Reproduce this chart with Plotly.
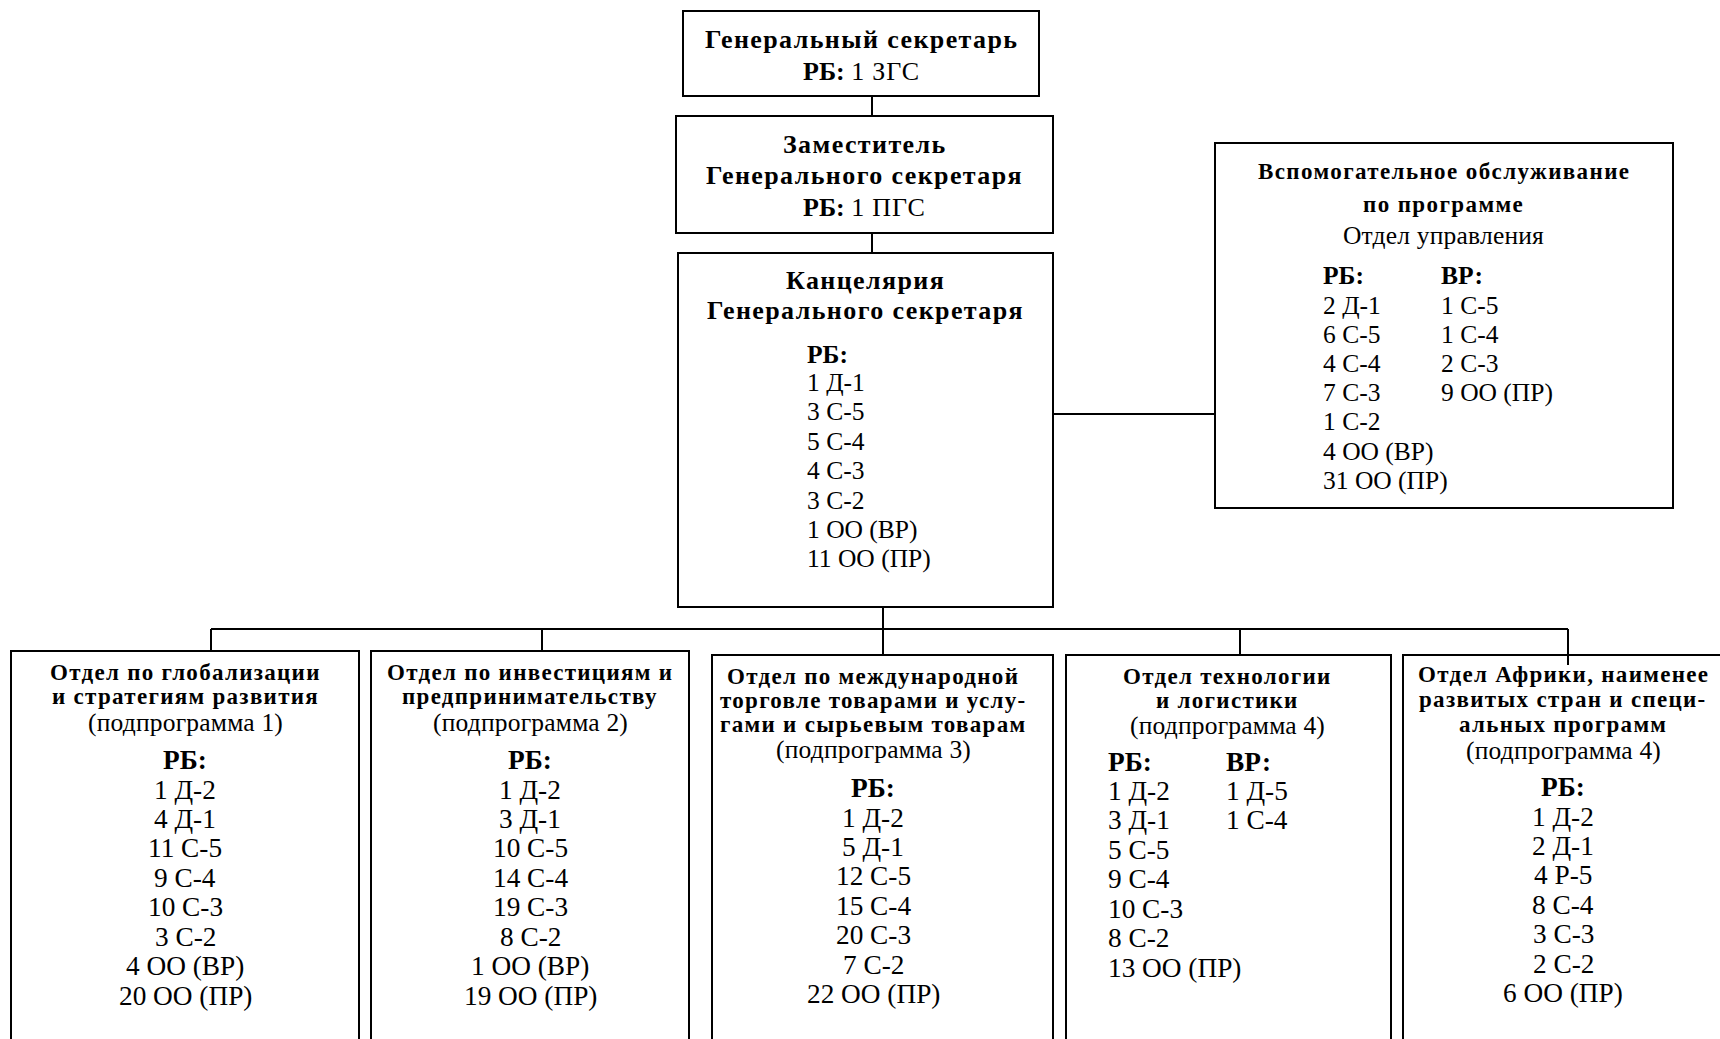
import plotly.graph_objects as go

# ---------------- data (texts) ----------------
sg_title = ["Генеральный секретарь"]
sg_rb = "1 ЗГС"

dsg_title = ["Заместитель", "Генерального секретаря"]
dsg_rb = "1 ПГС"

osg_title = ["Канцелярия", "Генерального секретаря"]
osg_rb = ["1 Д-1", "3 С-5", "5 С-4", "4 С-3", "3 С-2", "1 ОО (ВР)", "11 ОО (ПР)"]

ps_title = ["Вспомогательное обслуживание", "по программе"]
ps_sub = "Отдел управления"
ps_rb = ["2 Д-1", "6 С-5", "4 С-4", "7 С-3", "1 С-2", "4 ОО (ВР)", "31 ОО (ПР)"]
ps_xb = ["1 С-5", "1 С-4", "2 С-3", "9 ОО (ПР)"]

div_titles = [
    ["Отдел по глобализации", "и стратегиям развития"],
    ["Отдел по инвестициям и", "предпринимательству"],
    ["Отдел по международной", "торговле товарами и услу-", "гами и сырьевым товарам"],
    ["Отдел технологии", "и логистики"],
    ["Отдел Африки, наименее", "развитых стран и специ-", "альных программ"],
]
div_subs = ["(подпрограмма 1)", "(подпрограмма 2)", "(подпрограмма 3)",
            "(подпрограмма 4)", "(подпрограмма 4)"]
div_rb = [
    ["1 Д-2", "4 Д-1", "11 С-5", "9 С-4", "10 С-3", "3 С-2", "4 ОО (ВР)", "20 ОО (ПР)"],
    ["1 Д-2", "3 Д-1", "10 С-5", "14 С-4", "19 С-3", "8 С-2", "1 ОО (ВР)", "19 ОО (ПР)"],
    ["1 Д-2", "5 Д-1", "12 С-5", "15 С-4", "20 С-3", "7 С-2", "22 ОО (ПР)"],
    ["1 Д-2", "3 Д-1", "5 С-5", "9 С-4", "10 С-3", "8 С-2", "13 ОО (ПР)"],
    ["1 Д-2", "2 Д-1", "4 Р-5", "8 С-4", "3 С-3", "2 С-2", "6 ОО (ПР)"],
]
div_xb = [[], [], [], ["1 Д-5", "1 С-4"], []]

RB_LABEL = "РБ:"
XB_LABEL = "ВР:"

# ---------------- layout geometry ----------------
W, H = 1720, 1039
FONT = "Liberation Serif"
HEAD_SIZE = 26
HEAD_LS = 1.4
TOP_LIST_SIZE = 25.5
PS_HEAD_SIZE = 23
PS_HEAD_LS = 1.4
SUB_SIZE = 25.5
SUB_LS = 0.2
DIV_HEAD_SIZE = 23
DIV_HEAD_LS = 1.3
DIV_LIST_SIZE = 27.3
LW = 2

top_boxes = {
    "sg": (683, 11, 1039, 96),
    "dsg": (676, 116, 1053, 233),
    "osg": (678, 253, 1053, 607),
    "ps": (1215, 143, 1673, 508),
}
div_boxes_x0 = [11, 371, 712, 1066, 1403]
div_boxes_x1 = [359, 689, 1053, 1391, 1730]
div_boxes_y0 = [651, 651, 655, 655, 655]
div_cx = [185, 530, 873, 1227.5, 1563]
div_head_y0 = [672, 672, 676, 676, 674.5]
div_head_step = [24.6, 24.6, 24.3, 24.2, 25.1]
div_rb_y = [760, 760, 788, 762, 787]
div_list_step = 29.45
div4_cols = (1106, 1224)

bus_y = 629
bus_x = (211, 1568)
drop_x = [211, 542, 883, 1240, 1568]
drop_y1 = [651, 651, 655, 655, 665]

fig = go.Figure()
shapes = []
ann = []


def rect(b):
    shapes.append(dict(type="rect", xref="x", yref="y", x0=b[0], y0=b[1], x1=b[2], y1=b[3],
                       line=dict(color="black", width=LW), fillcolor="rgba(0,0,0,0)", layer="below"))


def line(x0, y0, x1, y1):
    shapes.append(dict(type="line", xref="x", yref="y", x0=x0, y0=y0, x1=x1, y1=y1,
                       line=dict(color="black", width=LW), layer="below"))


def bold(t, ls):
    return f'<b><span style="letter-spacing:{ls}px">{t}</span></b>'


def spaced(t, ls):
    return f'<span style="letter-spacing:{ls}px">{t}</span>'


def text(x, y, t, size, anchor="center"):
    ann.append(dict(x=x, y=y, xref="x", yref="y", text=t, showarrow=False,
                    xanchor=anchor, yanchor="middle",
                    font=dict(family=FONT, size=size, color="black")))


# boxes
for b in top_boxes.values():
    rect(b)
for i in range(5):
    rect((div_boxes_x0[i], div_boxes_y0[i], div_boxes_x1[i], H + 30))

# connectors
line(872, 96, 872, 116)
line(872, 233, 872, 253)
line(1053, 414, 1215, 414)
line(883, 607, 883, 655)
line(bus_x[0], bus_y, bus_x[1], bus_y)
for x, y1 in zip(drop_x, drop_y1):
    line(x, bus_y, x, y1)

# SG box
text(861, 39.5, bold(sg_title[0], HEAD_LS), HEAD_SIZE)
text(861, 71, "<b>" + RB_LABEL + "</b> " + spaced(sg_rb, 0.8), HEAD_SIZE)

# DSG box
for k, t in enumerate(dsg_title):
    text(864.5, 144 + 31 * k, bold(t, HEAD_LS), HEAD_SIZE)
text(864.5, 207, "<b>" + RB_LABEL + "</b> " + spaced(dsg_rb, 0.8), HEAD_SIZE)

# OSG box
for k, t in enumerate(osg_title):
    text(865.5, 280 + 30.5 * k, bold(t, HEAD_LS), HEAD_SIZE)
text(805, 354, "<b>" + RB_LABEL + "</b>", TOP_LIST_SIZE, "left")
for k, t in enumerate(osg_rb):
    text(805, 382.5 + 29.4 * k, t, TOP_LIST_SIZE, "left")

# Programme support box
text(1443.5, 171.7, bold(ps_title[0], PS_HEAD_LS), PS_HEAD_SIZE)
text(1443.5, 204, bold(ps_title[1], PS_HEAD_LS), PS_HEAD_SIZE)
text(1443.5, 235, spaced(ps_sub, SUB_LS), SUB_SIZE)
text(1321, 275.5, "<b>" + RB_LABEL + "</b>", TOP_LIST_SIZE, "left")
text(1439, 275.5, "<b>" + XB_LABEL + "</b>", TOP_LIST_SIZE, "left")
for k, t in enumerate(ps_rb):
    text(1321, 305 + 29.2 * k, t, TOP_LIST_SIZE, "left")
for k, t in enumerate(ps_xb):
    text(1439, 305 + 29.2 * k, t, TOP_LIST_SIZE, "left")

# Divisions
for i in range(5):
    cx = div_cx[i]
    n = len(div_titles[i])
    st = div_head_step[i]
    for k, t in enumerate(div_titles[i]):
        text(cx, div_head_y0[i] + st * k, bold(t, DIV_HEAD_LS), DIV_HEAD_SIZE)
    sub_y = div_head_y0[i] + st * (n - 1) + st + 1
    text(cx, sub_y, spaced(div_subs[i], SUB_LS), SUB_SIZE)
    ry = div_rb_y[i]
    if div_xb[i]:
        c0, c1 = div4_cols
        text(c0, ry, "<b>" + RB_LABEL + "</b>", DIV_LIST_SIZE, "left")
        text(c1, ry, "<b>" + XB_LABEL + "</b>", DIV_LIST_SIZE, "left")
        for k, t in enumerate(div_rb[i]):
            text(c0, ry + 29 + div_list_step * k, t, DIV_LIST_SIZE, "left")
        for k, t in enumerate(div_xb[i]):
            text(c1, ry + 29 + div_list_step * k, t, DIV_LIST_SIZE, "left")
    else:
        text(cx, ry, "<b>" + RB_LABEL + "</b>", DIV_LIST_SIZE)
        for k, t in enumerate(div_rb[i]):
            text(cx, ry + 29.5 + div_list_step * k, t, DIV_LIST_SIZE)

fig.update_layout(
    width=W, height=H,
    margin=dict(l=0, r=0, t=0, b=0),
    paper_bgcolor="white", plot_bgcolor="white",
    showlegend=False,
    font=dict(family=FONT),
    shapes=shapes, annotations=ann,
    xaxis=dict(range=[0, W], visible=False, fixedrange=True),
    yaxis=dict(range=[H, 0], visible=False, fixedrange=True),
)

fig.write_html("out.html", config={"displayModeBar": False},
               post_script="document.body.style.margin='0';document.body.style.overflow='hidden';")
